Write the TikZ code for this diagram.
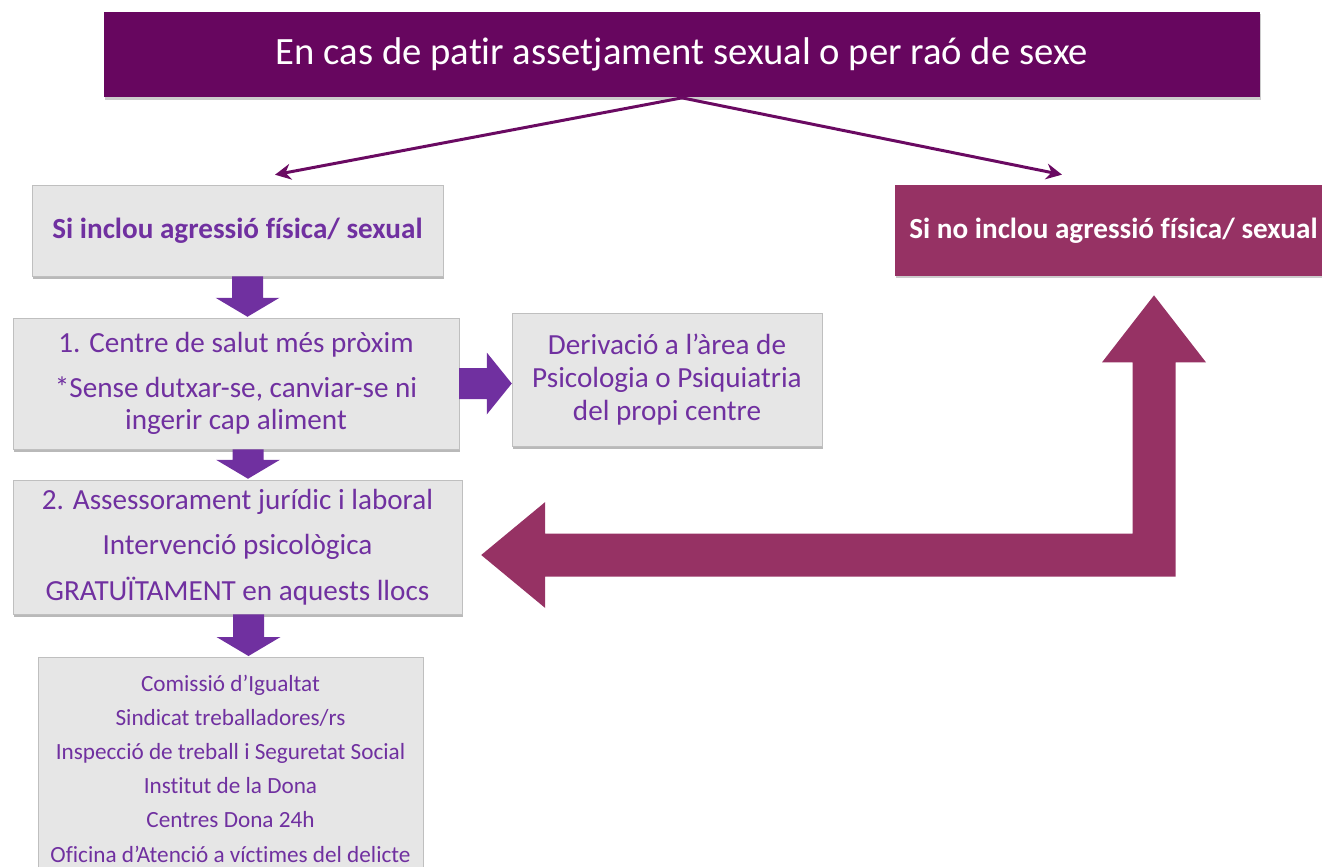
\documentclass[tikz,border=0pt]{standalone}
\usepackage{fontspec}
\setmainfont{Carlito}[Ligatures=NoCommon]
\usetikzlibrary{calc,shadows,arrows.meta}

\definecolor{headpurple}{RGB}{103,6,95}
\definecolor{linkpurple}{RGB}{106,10,98}
\definecolor{arrowpurple}{RGB}{112,48,160}
\definecolor{rosewine}{RGB}{150,50,100}
\definecolor{boxgray}{RGB}{230,230,230}

\tikzset{
	graybox/.style={fill=boxgray, draw=black!25, line width=0.3pt, inner sep=0pt, align=center,
		text=arrowpurple, drop shadow={opacity=0.55, shadow xshift=0.6pt, shadow yshift=-1.6pt}},
	bodytext/.style={font=\fontsize{16.6}{18.7}\selectfont},
	linkarrow/.style={draw=linkpurple, line width=1.7pt, -{Stealth[length=9pt,width=9pt]}}
}

% block arrows between boxes (pixel units, y downwards)
\def\blockdown(#1)(#2){\fill[arrowpurple] ($(#1)+(-15.5,0)$) -- ($(#1)+(15.5,0)$) -- ($(#1 |- #2)+(15.5,-20)$) -- ($(#1 |- #2)+(32,-20)$) -- ($(#1 |- #2)+(0,-1)$) -- ($(#1 |- #2)+(-32,-20)$) -- ($(#1 |- #2)+(-15.5,-20)$) -- cycle;}
\def\blockright(#1)(#2){\fill[arrowpurple] ($(#1)+(0,-15.5)$) -- ($(#1 -| #2)+(-25,-15.5)$) -- ($(#1 -| #2)+(-25,-31)$) -- (#1 -| #2) -- ($(#1 -| #2)+(-25,31)$) -- ($(#1 -| #2)+(-25,15.5)$) -- ($(#1)+(0,15.5)$) -- cycle;}

\begin{document}
\begin{tikzpicture}[x=0.02cm, y=-0.02cm]
			%%%%% START %%%%%
			
			\useasboundingbox (0,0) rectangle (1322,866);
			
			\node[fill=headpurple, text=white, minimum width=23.12cm, minimum height=1.72cm, inner sep=0pt,
				font=\fontsize{22}{26}\selectfont, drop shadow={opacity=0.4, shadow xshift=0.6pt, shadow yshift=-1.4pt}]
				(head) at (682,54.5) {En cas de patir assetjament sexual o per raó de sexe};
			
			\node[graybox, minimum width=8.22cm, minimum height=1.82cm, font=\fontsize{16.6}{18.7}\selectfont\bfseries]
				(si) at (237.5,230.5) {Si inclou agressió física/ sexual};
			\node[fill=rosewine, text=white, minimum width=8.74cm, minimum height=1.82cm, inner sep=0pt,
				font=\fontsize{16.6}{18.7}\selectfont\bfseries, drop shadow={opacity=0.4, shadow xshift=0.6pt, shadow yshift=-1.4pt}]
				(sino) at (1113.5,230.5) {Si no inclou agressió física/ sexual};
			
			\coordinate (toleft) at ($(si.north)+(37.5,-10)$);
			\coordinate (toright) at ($(sino.north)+(-51.5,-10)$);
			\draw[linkarrow] (head.south) -- (toleft);
			\draw[linkarrow] (head.south) -- (toright);
			
			\node[graybox, bodytext, minimum width=8.92cm, minimum height=2.62cm]
				(box1) at (236,383.5) {1. Centre de salut més pròxim\\[6.8pt]*Sense dutxar-se, canviar-se ni\\ingerir cap aliment};
			\node[graybox, bodytext, minimum width=6.2cm, minimum height=2.66cm]
				(deriv) at (667,379.5) {Derivació a l’àrea de\\Psicologia o Psiquiatria\\del propi centre};
			\node[graybox, bodytext, minimum width=8.98cm, minimum height=2.68cm]
				(box2) at (237.5,547) {2. Assessorament jurídic i laboral\\[7.3pt]Intervenció psicològica\\[7.3pt]GRATUÏTAMENT en aquests llocs};
			\node[graybox, minimum width=7.7cm, minimum height=4.46cm, anchor=north, font=\fontsize{13.2}{19.4}\selectfont]
				(box3) at (230.5,657) {Comissió d’Igualtat\\Sindicat treballadores/rs\\Inspecció de treball i Seguretat Social\\Institut de la Dona\\Centres Dona 24h\\Oficina d’Atenció a víctimes del delicte};
			
			\coordinate (d1) at ($(si.south)+(10,0)$);
			\coordinate (d2) at ($(box1.south)+(12,0)$);
			\coordinate (d3) at ($(box2.south)+(11,0)$);
			\blockdown(d1)(box1.north)
			\blockdown(d2)(box2.north)
			\blockdown(d3)(box3.north)
			\blockright(box1.east)(deriv.west)
			
			\coordinate (uptip) at ($(sino.south)+(40.5,19)$);
			\coordinate (lefttip) at ($(box2.east)+(19,8)$);
			\fill[rosewine] (uptip) -- ($(uptip)+(52,67)$) -- ($(uptip)+(21.5,67)$) -- ($(uptip |- lefttip)+(21.5,21.5)$)
				-- ($(lefttip)+(64,21.5)$) -- ($(lefttip)+(64,53)$) -- (lefttip) -- ($(lefttip)+(64,-53)$)
				-- ($(lefttip)+(64,-21.5)$) -- ($(uptip |- lefttip)+(-21.5,-21.5)$) -- ($(uptip)+(-21.5,67)$)
				-- ($(uptip)+(-52,67)$) -- cycle;
			
			%%%%% END %%%%%
\end{tikzpicture}
\end{document}
